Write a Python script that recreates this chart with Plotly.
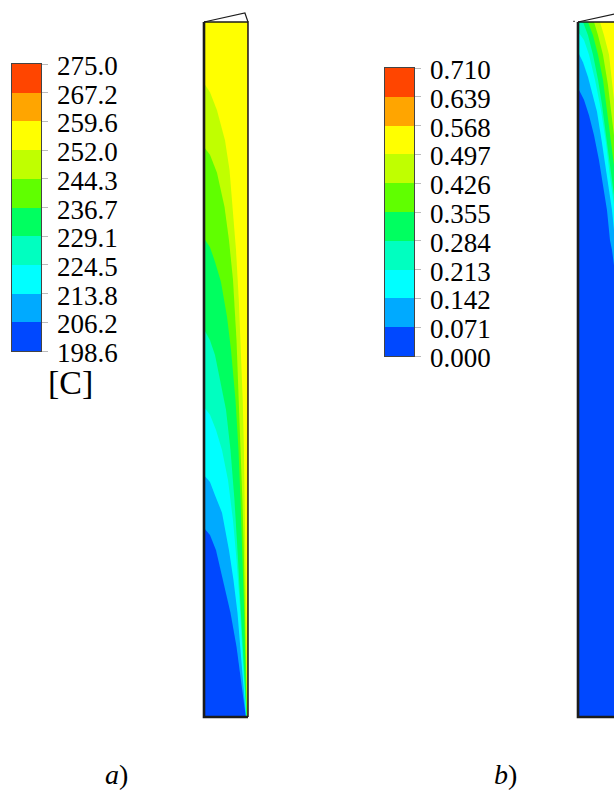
import plotly.graph_objects as go

# ---------------- data ----------------
BAND_COLORS = ["#0048FF", "#00AAFF", "#00FFFF", "#00FFC0", "#00FF60",
               "#60FF00", "#C0FF00", "#FFFF00", "#FFA500", "#FF4500"]
TEMP_LABELS = ["198.6", "206.2", "213.8", "224.5", "229.1", "236.7",
               "244.3", "252.0", "259.6", "267.2", "275.0"]
FRAC_LABELS = ["0.000", "0.071", "0.142", "0.213", "0.284", "0.355",
               "0.426", "0.497", "0.568", "0.639", "0.710"]
BAND_INDEX = list(range(10))
TICK_POS = [i - 0.5 for i in range(11)]

# panel a) temperature contour boundaries (r/R, z/H); band index of region below/left
A_BASE_BAND = 7
A_WALL_BAND = 8
A_C1_R = [0, 0.136, 0.295, 0.477, 0.580, 0.659, 0.727, 0.791, 0.841, 0.880, 0.907, 0.927, 0.943, 0.957, 0.970, 0.980]
A_C1_Z = [0.912, 0.899, 0.873, 0.830, 0.787, 0.729, 0.672, 0.600, 0.528, 0.456, 0.384, 0.312, 0.240, 0.168, 0.096, 0]
A_C2_R = [0, 0.136, 0.295, 0.466, 0.568, 0.659, 0.739, 0.791, 0.836, 0.873, 0.905, 0.930, 0.952, 0.975]
A_C2_Z = [0.820, 0.809, 0.783, 0.734, 0.686, 0.629, 0.542, 0.456, 0.384, 0.312, 0.240, 0.168, 0.096, 0]
A_C3_R = [0, 0.136, 0.25, 0.386, 0.523, 0.614, 0.716, 0.784, 0.830, 0.870, 0.905, 0.932, 0.970]
A_C3_Z = [0.689, 0.676, 0.655, 0.626, 0.576, 0.528, 0.456, 0.384, 0.312, 0.240, 0.168, 0.096, 0]
A_C4_R = [0, 0.136, 0.25, 0.364, 0.5, 0.602, 0.693, 0.761, 0.830, 0.886, 0.965]
A_C4_Z = [0.558, 0.542, 0.521, 0.485, 0.442, 0.384, 0.312, 0.240, 0.168, 0.096, 0]
A_C5_R = [0, 0.136, 0.273, 0.409, 0.545, 0.659, 0.739, 0.807, 0.870, 0.96]
A_C5_Z = [0.446, 0.435, 0.413, 0.384, 0.341, 0.283, 0.226, 0.168, 0.096, 0]
A_C6_R = [0, 0.136, 0.25, 0.409, 0.568, 0.670, 0.761, 0.830, 0.886, 0.955]
A_C6_Z = [0.348, 0.338, 0.319, 0.294, 0.240, 0.197, 0.150, 0.101, 0.053, 0]
A_C7_R = [0, 0.136, 0.273, 0.432, 0.602, 0.739, 0.841, 0.95]
A_C7_Z = [0.272, 0.262, 0.240, 0.197, 0.150, 0.101, 0.053, 0]
A_CONTOURS = [(6, A_C1_R, A_C1_Z), (5, A_C2_R, A_C2_Z), (4, A_C3_R, A_C3_Z),
              (3, A_C4_R, A_C4_Z), (2, A_C5_R, A_C5_Z), (1, A_C6_R, A_C6_Z),
              (0, A_C7_R, A_C7_Z)]

# panel b) fraction contour boundaries
B_BASE_BAND = 7
B_YG_R = [0.5, 0.591, 0.705, 0.818, 0.95]
B_YG_Z = [1.0, 0.981, 0.953, 0.888, 0.83]
B_G_R = [0.364, 0.455, 0.568, 0.682, 0.75, 0.818, 0.95]
B_G_Z = [1.0, 0.981, 0.953, 0.909, 0.873, 0.837, 0.78]
B_G2_R = [0.227, 0.341, 0.455, 0.568, 0.659, 0.727, 0.818, 0.95]
B_G2_Z = [1.0, 0.981, 0.953, 0.917, 0.873, 0.837, 0.794, 0.74]
B_AQ_R = [0.114, 0.227, 0.341, 0.455, 0.545, 0.636, 0.727, 0.818, 0.95]
B_AQ_Z = [1.0, 0.981, 0.953, 0.917, 0.881, 0.837, 0.794, 0.751, 0.68]
B_CY_R = [0, 0.136, 0.25, 0.386, 0.523, 0.636, 0.727, 0.818, 0.909]
B_CY_Z = [0.986, 0.974, 0.953, 0.917, 0.873, 0.826, 0.777, 0.737, 0.686]
B_SK_R = [0, 0.114, 0.227, 0.341, 0.432, 0.545, 0.659, 0.773, 0.864, 0.95]
B_SK_Z = [0.957, 0.942, 0.921, 0.895, 0.871, 0.826, 0.777, 0.729, 0.672, 0.6]
B_BL_R = [0, 0.136, 0.25, 0.364, 0.477, 0.568, 0.659, 0.727, 0.773, 0.818, 0.90]
B_BL_Z = [0.905, 0.888, 0.866, 0.837, 0.801, 0.765, 0.729, 0.686, 0.672, 0.650, 0.55]
B_CONTOURS = [(6, B_YG_R, B_YG_Z), (5, B_G_R, B_G_Z), (4, B_G2_R, B_G2_Z),
              (3, B_AQ_R, B_AQ_Z), (2, B_CY_R, B_CY_Z), (1, B_SK_R, B_SK_Z),
              (0, B_BL_R, B_BL_Z)]

# geometry outline (r/R, z/H)
BOX_R = [0, 0, 1, 1]
BOX_Z = [1, 0, 0, 1]
TOP_R = [0, 0.93, 1.0]
TOP_Z = [1.0, 1.013, 1.0]

SERIF = "Liberation Serif"

# ---------------- figure ----------------
fig = go.Figure()


def fill(xa, rs, zs, color):
    fig.add_trace(go.Scatter(x=rs, y=zs, xaxis=xa, yaxis="y", mode="lines",
                             fill="toself", fillcolor=color,
                             line=dict(width=0, color=color),
                             hoverinfo="skip", showlegend=False))


def region_below(rs, zs):
    xs, ys = [], []
    if rs[0] > 0:
        xs.append(0); ys.append(1.0)
    xs += list(rs); ys += list(zs)
    xs += [rs[-1], 0]; ys += [0, 0]
    return xs, ys


def panel(xa, base_band, contours, wall_band=None):
    fill(xa, [0, 1, 1, 0, 0], [0, 0, 1, 1, 0], BAND_COLORS[base_band])
    for band, rs, zs in contours:
        xs, ys = region_below(rs, zs)
        fill(xa, xs, ys, BAND_COLORS[band])
    if wall_band is not None:
        fill(xa, [0.982, 1, 1, 0.982, 0.982], [0, 0, 1, 1, 0], BAND_COLORS[wall_band])
    fig.add_trace(go.Scatter(x=BOX_R[:3], y=BOX_Z[:3],
                             xaxis=xa, yaxis="y", mode="lines",
                             line=dict(color="#1c1c1c", width=2.6),
                             hoverinfo="skip", showlegend=False))
    fig.add_trace(go.Scatter(x=[BOX_R[2], BOX_R[3], BOX_R[0]], y=[BOX_Z[2], BOX_Z[3], BOX_Z[0]],
                             xaxis=xa, yaxis="y", mode="lines",
                             line=dict(color="#1c1c1c", width=1.5),
                             hoverinfo="skip", showlegend=False))
    fig.add_trace(go.Scatter(x=TOP_R, y=TOP_Z, xaxis=xa, yaxis="y", mode="lines",
                             line=dict(color="#1c1c1c", width=1.2),
                             hoverinfo="skip", showlegend=False))


panel("x", A_BASE_BAND, A_CONTOURS, A_WALL_BAND)
panel("x2", B_BASE_BAND, B_CONTOURS)
fig.add_trace(go.Scatter(x=[-0.11, -0.07], y=[1.001, 1.001], xaxis="x2", yaxis="y",
                         mode="lines", line=dict(color="#333", width=1),
                         hoverinfo="skip", showlegend=False))

# colour legends as discrete heatmaps on their own axes
cs = []
for i, c in enumerate(BAND_COLORS):
    cs.append([i / 10, c])
    cs.append([(i + 1) / 10, c])

for xa, ya in [("x3", "y3"), ("x4", "y4")]:
    fig.add_trace(go.Heatmap(z=[[b] for b in BAND_INDEX], x=[0], y=BAND_INDEX,
                             xaxis=xa, yaxis=ya, colorscale=cs, zmin=-0.5, zmax=9.5,
                             showscale=False, hoverinfo="skip"))


def bar_yaxis(anchor, top_px, bottom_px):
    return dict(anchor=anchor, domain=[1 - bottom_px / 790, 1 - top_px / 790],
                range=[-0.5, 9.5], side="right", tickmode="array",
                tickvals=TICK_POS, showticklabels=False, ticks="outside", ticklen=6,
                tickcolor="#bbbbbb", tickwidth=1, automargin=False,
                showline=True, linecolor="#444444", linewidth=1, mirror=True,
                showgrid=False, zeroline=False, fixedrange=True)


def bar_xaxis(anchor, left_px, right_px):
    return dict(anchor=anchor, domain=[left_px / 614, right_px / 614], range=[-0.5, 0.5],
                showticklabels=False, ticks="", showline=True, linecolor="#444444",
                linewidth=1, mirror=True, showgrid=False, zeroline=False,
                fixedrange=True, automargin=False)


annotations = []
for xr, yr, labels in [("x3 domain", "y3", TEMP_LABELS), ("x4 domain", "y4", FRAC_LABELS)]:
    for pos, lab in zip(TICK_POS, labels):
        annotations.append(dict(text=lab, x=1, y=pos, xref=xr, yref=yr,
                                xanchor="left", yanchor="middle", xshift=15, yshift=-2,
                                showarrow=False, borderpad=0,
                                font=dict(family=SERIF, size=27, color="black")))

annotations += [
    dict(text="[C]", x=70 / 614, y=1 - 383 / 790, xref="paper", yref="paper",
         xanchor="center", yanchor="middle",
         showarrow=False, font=dict(family=SERIF, size=34, color="black")),
    dict(text="<i>a</i>)", x=116 / 614, y=1 - 774 / 790, xref="paper", yref="paper",
         xanchor="center", yanchor="middle",
         showarrow=False, font=dict(family=SERIF, size=28, color="black")),
    dict(text="<i>b</i>)", x=505 / 614, y=1 - 774 / 790, xref="paper", yref="paper",
         xanchor="center", yanchor="middle",
         showarrow=False, font=dict(family=SERIF, size=28, color="black")),
]

fig.update_layout(
    width=614, height=790,
    margin=dict(l=0, r=0, t=0, b=0, pad=0, autoexpand=False),
    font=dict(family=SERIF, size=26, color="black"),
    paper_bgcolor="white", plot_bgcolor="rgba(0,0,0,0)",
    showlegend=False,
    xaxis=dict(domain=[196 / 614, 256 / 614], range=[-8 / 44, 52 / 44], visible=False,
               automargin=False),
    xaxis2=dict(domain=[566 / 614, 1.0], range=[-12 / 44, 36 / 44], visible=False,
                automargin=False),
    yaxis=dict(domain=[1 - 725 / 790, 1 - 5 / 790], range=[-8 / 695, 712 / 695], visible=False,
               automargin=False),
    xaxis3=bar_xaxis("y3", 12, 41),
    yaxis3=bar_yaxis("x3", 64, 351),
    xaxis4=bar_xaxis("y4", 385, 414),
    yaxis4=bar_yaxis("x4", 68, 356),
    annotations=annotations,
)

fig.write_html("out.html")
